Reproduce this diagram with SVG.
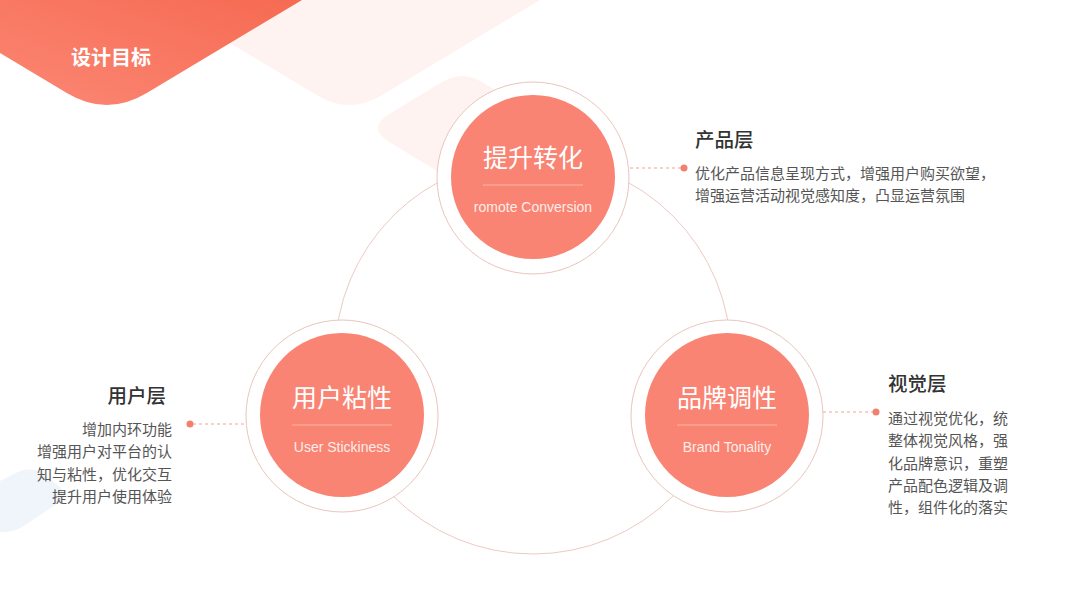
<svg xmlns="http://www.w3.org/2000/svg" width="1067" height="600" viewBox="0 0 1067 600">
<defs>
<linearGradient id="bannerGrad" x1="0" y1="1" x2="1" y2="0">
<stop offset="0" stop-color="#FB8774"/>
<stop offset="1" stop-color="#F66A52"/>
</linearGradient>
<style>
.ring{fill:#FFFFFF;stroke:#E9C5BD;stroke-width:1}
.core{fill:#F98473}
.sep{stroke:#FCB5A8;stroke-width:1}
.title{font-family:"Noto Sans CJK SC","Noto Sans",sans-serif;font-size:25px;fill:#FFFFFF;text-anchor:middle}
.sub{font-family:"Liberation Sans",Arial,sans-serif;font-size:14px;fill:#FFEDE9;text-anchor:middle}
.head{font-family:"Noto Sans CJK SC","Noto Sans",sans-serif;font-size:19.5px;font-weight:500;fill:#333333}
.body{font-family:"Noto Sans CJK SC","Noto Sans",sans-serif;font-size:15px;fill:#555555}
.dash{stroke:#EFA597;stroke-width:1;stroke-dasharray:3 3;fill:none}
.dot{fill:#F2806F}
</style>
</defs>
<rect width="1067" height="600" fill="#FFFFFF"/>
<g id="background">
<path d="M158,0 L317.4,95.4 Q349.4,114.6 381.4,95.4 L540,0 Z" fill="#FEF3F1"/>
<path d="M390,113.6 Q366,128 390,142.4 L462,186 L558,128 L482,82 Q462,70 442,82 Z" fill="#FEF3F1"/>
<path d="M0,481 L18,472 Q30,466 42,473 L60,487 Q69,496 58,503 L22,527 Q12,533 0,532 Z" fill="#F0F4FB"/>
<path d="M0,0 L302,0 L146.8,93 Q106.8,117 66.8,93 L0,53 Z" fill="url(#bannerGrad)"/>
<text x="71" y="65" font-family="'Noto Sans CJK SC','Noto Sans',sans-serif" font-size="20" font-weight="700" fill="#FFFFFF">设计目标</text>
</g>
<g id="connectors">
<circle cx="533" cy="356" r="198" fill="none" stroke="#EDCAC2" stroke-width="1"/>
<line class="dash" x1="630" y1="168" x2="681" y2="168"/>
<circle class="dot" cx="684" cy="168" r="3.5"/>
<line class="dash" x1="193" y1="424" x2="245" y2="424"/>
<circle class="dot" cx="190" cy="424" r="3.5"/>
<line class="dash" x1="823" y1="412" x2="873" y2="412"/>
<circle class="dot" cx="876" cy="412" r="3.5"/>
</g>
<g id="node-top">
<circle class="ring" cx="533" cy="178" r="96"/>
<circle class="core" cx="533" cy="177" r="82"/>
<text class="title" x="533" y="167">提升转化</text>
<line class="sep" x1="483" y1="185" x2="583" y2="185"/>
<text class="sub" x="533" y="212">romote Conversion</text>
</g>
<g id="node-left">
<circle class="ring" cx="342" cy="416" r="96"/>
<circle class="core" cx="342" cy="415" r="82"/>
<text class="title" x="342" y="407">用户粘性</text>
<line class="sep" x1="292" y1="425" x2="392" y2="425"/>
<text class="sub" x="342" y="452">User Stickiness</text>
</g>
<g id="node-right">
<circle class="ring" cx="727" cy="416" r="96"/>
<circle class="core" cx="727" cy="415" r="82"/>
<text class="title" x="727" y="407">品牌调性</text>
<line class="sep" x1="677" y1="425" x2="777" y2="425"/>
<text class="sub" x="727" y="452">Brand Tonality</text>
</g>
<g id="label-product">
<text class="head" x="695" y="147">产品层</text>
<text class="body" x="695" y="179">优化产品信息呈现方式，增强用户购买欲望，</text>
<text class="body" x="695" y="201">增强运营活动视觉感知度，凸显运营氛围</text>
</g>
<g id="label-user">
<text class="head" x="166" y="403" text-anchor="end">用户层</text>
<text class="body" x="172" y="435" text-anchor="end">增加内环功能</text>
<text class="body" x="172" y="457" text-anchor="end">增强用户对平台的认</text>
<text class="body" x="172" y="480" text-anchor="end">知与粘性，优化交互</text>
<text class="body" x="172" y="502" text-anchor="end">提升用户使用体验</text>
</g>
<g id="label-visual">
<text class="head" x="888" y="391">视觉层</text>
<text class="body" x="888" y="424">通过视觉优化，统</text>
<text class="body" x="888" y="446">整体视觉风格，强</text>
<text class="body" x="888" y="469">化品牌意识，重塑</text>
<text class="body" x="888" y="491">产品配色逻辑及调</text>
<text class="body" x="888" y="513">性，组件化的落实</text>
</g>
</svg>
